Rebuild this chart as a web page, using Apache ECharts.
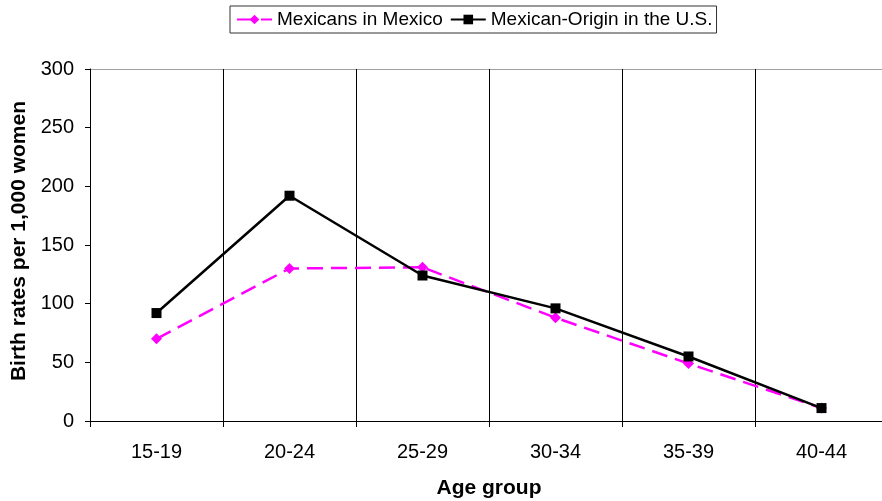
<!DOCTYPE html>
<html>
<head>
<meta charset="utf-8">
<script src="https://cdn.jsdelivr.net/npm/echarts@6/dist/echarts.min.js"></script>
<style>html,body{margin:0;padding:0;background:#fff}#c{width:882px;height:501px}</style>
</head>
<body>
<div id="c"></div>
<script>
const categories = ['15-19', '20-24', '25-29', '30-34', '35-39', '40-44'];
const mexicansInMexico = [70, 130, 131, 88, 49, 11];
const mexicanOriginUS = [92, 192, 124, 96, 55, 11];
const yTicks = [0, 50, 100, 150, 200, 250, 300];

const font = 'Liberation Sans, Arial, sans-serif';
const chart = echarts.init(document.getElementById('c'));
chart.setOption({
  animation: false,
  backgroundColor: '#fff',
  textStyle: { fontFamily: font },
  legend: {
    left: 230, top: 6,
    padding: [4, 4, 4, 6],
    borderColor: '#333', borderWidth: 1,
    itemWidth: 35, itemHeight: 12, itemGap: 7,
    textStyle: { fontSize: 19, color: '#000', fontFamily: font },
    data: ['Mexicans in Mexico', 'Mexican-Origin in the U.S.']
  },
  grid: { left: 90, top: 69, width: 798, height: 352, outerBoundsMode: 'none', containLabel: false },
  xAxis: {
    type: 'category',
    data: categories,
    name: 'Age group',
    nameLocation: 'middle',
    nameGap: 57,
    nameTextStyle: { fontSize: 21, fontWeight: 'bold', color: '#000' },
    axisLine: { lineStyle: { color: '#000', width: 1 } },
    axisTick: { show: true, length: 6, lineStyle: { color: '#000' } },
    axisLabel: { fontSize: 20, color: '#000', margin: 21 },
    splitLine: { show: true, lineStyle: { color: '#000', width: 1 } }
  },
  yAxis: {
    type: 'value',
    min: 0, max: 300, interval: 50,
    name: 'Birth rates per 1,000 women',
    nameLocation: 'middle',
    nameGap: 54,
    nameTextStyle: { fontSize: 21, fontWeight: 'bold', color: '#000', padding: [0, 0, 0, 8] },
    axisLine: { show: true, lineStyle: { color: '#000', width: 1 } },
    axisTick: { show: true, length: 5, lineStyle: { color: '#000' } },
    axisLabel: { fontSize: 20, color: '#000', margin: 16,
      formatter: v => yTicks.includes(v) ? String(v) : '' },
    splitLine: { show: true, lineStyle: { color: ['rgba(0,0,0,0)','rgba(0,0,0,0)','rgba(0,0,0,0)','rgba(0,0,0,0)','rgba(0,0,0,0)','rgba(0,0,0,0)','#a0a0a0'], width: 1 } }
  },
  series: [
    {
      name: 'Mexicans in Mexico',
      type: 'line',
      data: mexicansInMexico,
      symbol: 'diamond', symbolSize: 11,
      itemStyle: { color: '#ff00ff' },
      lineStyle: { color: '#ff00ff', width: 2.5, type: [16, 8] },
      z: 2
    },
    {
      name: 'Mexican-Origin in the U.S.',
      type: 'line',
      data: mexicanOriginUS,
      symbol: 'rect', symbolSize: 10,
      itemStyle: { color: '#000' },
      lineStyle: { color: '#000', width: 2.5 },
      z: 3
    }
  ]
});
</script>
</body>
</html>
